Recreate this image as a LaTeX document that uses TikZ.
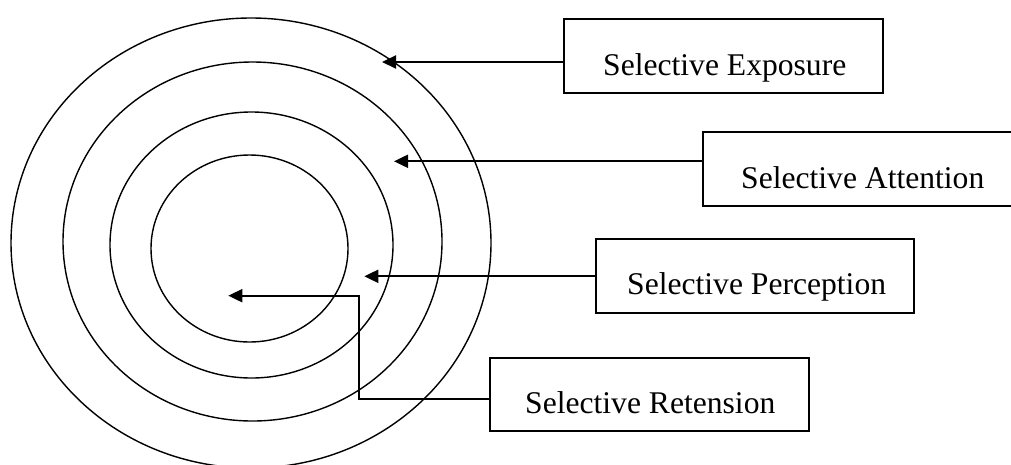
\documentclass[tikz,border=0pt]{standalone}
\usepackage{fontspec}
\setmainfont{Liberation Serif}
\usetikzlibrary{arrows.meta}
\begin{document}
\begin{tikzpicture}[x=1pt,y=-1pt,
  ring/.style={draw=black,line width=1.4pt},
  labelbox/.style={draw=black,line width=1.9pt,rectangle,inner sep=0pt},
  labeltext/.style={anchor=base west,inner sep=0pt,font=\fontsize{31.6}{36}\selectfont},
  pointer/.style={draw=black,line width=2pt,-{Triangle[length=14pt,width=13pt]}}]
\useasboundingbox (0,0) rectangle (1011,464);
\clip (0,0) rectangle (1011,464);

% concentric rings
\draw[ring] (251,243) ellipse [x radius=240,y radius=225];
\draw[ring] (252.5,241.5) ellipse [x radius=189.5,y radius=179.5];
\draw[ring] (251.5,245) ellipse [x radius=141.5,y radius=133];
\draw[ring] (249.5,248.5) ellipse [x radius=98.5,y radius=93.5];

% label boxes
\node[labelbox,minimum width=319pt,minimum height=74pt] (exp) at (723.5,56) {};
\node[labelbox,minimum width=320pt,minimum height=74pt] (att) at (863,169) {};
\node[labelbox,minimum width=318pt,minimum height=74pt] (per) at (755,276) {};
\node[labelbox,minimum width=319pt,minimum height=73pt] (ret) at (649.5,394.5) {};

% labels
\node[labeltext] (texp) at (603,75) {Selective Exposure};
\node[labeltext] (tatt) at (741,188) {Selective Attention};
\node[labeltext] (tper) at (627,294) {Selective Perception};
\node[labeltext] (tret) at (525,413) {Selective Retension};

% pointer ends
\coordinate (pexp) at (382,62);
\coordinate (patt) at (394,161.3);
\coordinate (pper) at (364.3,276.3);
\coordinate (pret) at (228.3,295.7);
\coordinate (bend) at (359,398.7);

\draw[pointer] (exp.west |- pexp) -- (pexp);
\draw[pointer] (att.west |- patt) -- (patt);
\draw[pointer] (per.west |- pper) -- (pper);
\draw[pointer] (ret.west |- bend) -- (bend) -- (bend |- pret) -- (pret);
\end{tikzpicture}
\end{document}
